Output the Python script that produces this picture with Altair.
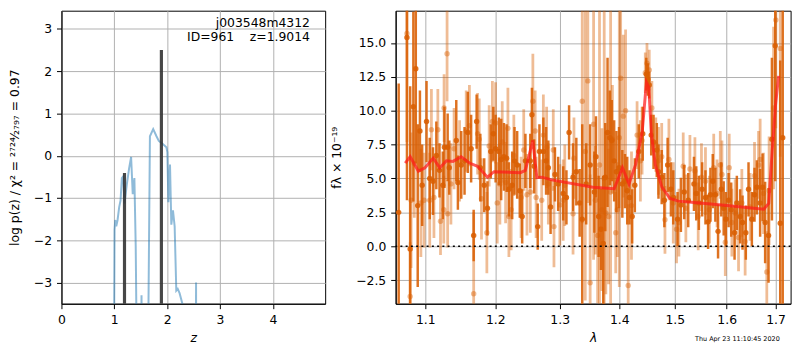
import altair as alt
import pandas as pd

# ---------------- left panel: redshift probability ----------------
pz_z = [0.99, 1.005, 1.018, 1.037, 1.062, 1.093, 1.118, 1.143, 1.168, 1.193,
        1.237, 1.280, 1.318, 1.349, 1.380, 1.405, 1.436, 1.505, 1.515, 1.525,
        1.630, 1.674, 1.736, 1.798, 1.842, 1.923, 1.986, 2.004, 2.023, 2.054,
        2.079, 2.110, 2.142, 2.173, 2.200, 2.235, 2.310, 2.330, 2.540, 2.547,
        2.552]
pz_logp = [-6.0, -1.75, -1.52, -1.67, -1.52, -1.21, -1.06, -0.53, -0.49, -1.13,
           -0.68, -0.30, -0.03, -0.91, -0.53, -2.12, -6.0, -6.0, -3.30, -6.0,
           -6.0, 0.46, 0.63, 0.46, 0.35, 0.27, 0.20, 0.08, -1.10, -0.21,
           -1.63, -1.29, -1.67, -3.19, -3.15, -3.25, -3.6, -6.0, -6.0, -3.00,
           -6.0]
zbar_z = [1.193, 1.891]
zbar_top = [-0.41, 2.50]

obj_name = "j003548m4312"
obj_info = "ID=961\u00a0\u00a0\u00a0\u00a0z=1.9014"
timestamp = "Thu Apr 23 11:10:45 2020"

# ---------------- right panel: spectrum ----------------
# darker grism series
lam_a = [1.0642, 1.0752, 1.0795, 1.0838, 1.0871, 1.0897, 1.0927, 1.0957, 1.1017, 1.1061,
         1.1106, 1.1152, 1.1196, 1.1242, 1.1265, 1.1310, 1.1333, 1.1432, 1.1455, 1.1503,
         1.1550, 1.1597, 1.1645, 1.1682, 1.1725, 1.1779, 1.1836, 1.1884, 1.1933, 1.1971,
         1.2005, 1.2054, 1.2088, 1.2130, 1.2170, 1.2205, 1.2255, 1.2290, 1.2331, 1.2371,
         1.2408, 1.2458, 1.2534, 1.2559, 1.2594, 1.2650, 1.2677, 1.2739, 1.2782, 1.2818,
         1.2854, 1.2924, 1.2976, 1.3057, 1.3110, 1.3153, 1.3218, 1.3272, 1.3327, 1.3370,
         1.3436, 1.3502, 1.3573, 1.3600, 1.3645, 1.3684, 1.3724, 1.3758, 1.3797, 1.3836,
         1.3870, 1.3911, 1.3950, 1.3996, 1.4053, 1.4099, 1.4139, 1.4179, 1.4226, 1.4273,
         1.4343, 1.4414, 1.4478, 1.4508, 1.4531, 1.4567, 1.4609, 1.4668, 1.4699, 1.4758,
         1.4807, 1.4867, 1.4928, 1.4972, 1.5052, 1.5114, 1.5177, 1.5253, 1.5362, 1.5406,
         1.5456, 1.5519, 1.5583, 1.5634, 1.5680, 1.5725, 1.5776, 1.5829, 1.5893, 1.5940,
         1.5985, 1.6038, 1.6090, 1.6157, 1.6203, 1.6270, 1.6318, 1.6385, 1.6440, 1.6508,
         1.6563, 1.6611, 1.6679, 1.6729, 1.6783, 1.6854, 1.6925, 1.6995, 1.7101, 1.7154]
flux_a = [2.5, 15.4, -0.2, 10.3, 13.1, 3.0, 8.5, 4.5, 9.2, 5.0,
          4.8, 6.7, 5.6, 4.5, 7.3, 7.3, 5.8, 7.8, 4.7, 6.0,
          6.3, 8.4, 7.2, 0.8, 9.2, 5.8, 4.5, 2.8, 7.0, 8.3,
          7.2, 7.0, 6.4, 6.6, 6.5, 4.2, 4.5, 6.3, 6.0, 4.1,
          2.2, 6.3, 6.3, 9.7, 5.9, 1.45, 7.0, 7.0, 6.3, 5.8,
          2.9, 5.3, 4.6, 3.9, 3.6, 8.4, 5.1, 5.5, 3.2, 2.0,
          4.6, 6.0, 4.0, 6.6, 2.2, 1.25, 0.2, 5.1, 8.4, 8.0,
          7.8, 6.3, 5.5, 5.8, 4.6, 4.8, 4.1, 3.6, 2.2, 4.5,
          7.0, 8.3, 12.7, 12.3, 11.9, 8.2, 7.7, 7.1, 5.5, 5.1,
          3.4, 6.0, 4.2, 3.6, 2.0, 3.05, 4.0, 3.4, 4.6, 3.9,
          3.2, 4.2, 3.6, 1.8, 3.8, 4.8, 3.8, 1.1, 4.2, 2.8,
          2.0, 3.4, 2.7, 1.0, 3.2, 2.2, 1.75, 1.0, 4.2, 2.0,
          3.8, 4.35, 3.2, 4.35, 1.75, 0.8, 7.9, 14.8, 1.7, 8.0]
err_a = [9.5, 12.0, 12.0, 7.0, 7.0, 6.0, 3.0, 3.0, 3.0, 3.0,
         2.5, 2.5, 2.0, 2.5, 3.0, 2.5, 2.0, 3.0, 2.0, 2.5,
         2.5, 3.0, 2.5, 1.9, 2.0, 2.5, 2.0, 2.0, 2.0, 2.0,
         2.5, 2.5, 3.0, 2.5, 2.5, 2.0, 2.5, 2.5, 2.5, 2.0,
         2.0, 2.0, 2.0, 2.0, 2.0, 1.7, 2.0, 2.5, 2.5, 2.0,
         2.0, 2.0, 2.0, 2.0, 2.0, 2.0, 2.5, 2.5, 2.5, 7.0,
         3.0, 3.0, 3.0, 3.0, 3.0, 3.0, 5.0, 4.0, 5.5, 3.5,
         3.0, 3.0, 3.0, 3.0, 2.5, 2.0, 2.5, 2.0, 2.0, 2.0,
         2.0, 2.0, 1.2, 1.2, 1.0, 1.5, 2.0, 2.0, 2.0, 2.0,
         2.0, 2.0, 2.0, 2.0, 2.0, 2.0, 2.0, 2.0, 2.0, 2.0,
         2.0, 2.0, 2.0, 2.0, 2.0, 2.0, 2.0, 2.0, 2.0, 2.0,
         2.0, 2.0, 2.0, 2.0, 2.0, 2.0, 2.0, 2.0, 2.0, 2.0,
         2.0, 2.0, 2.5, 2.5, 3.0, 3.5, 6.0, 10.0, 12.0, 16.0]

# lighter grism series
lam_b = [1.0752, 1.0795, 1.0808, 1.0851, 1.0940, 1.0984, 1.1061, 1.1084, 1.1119, 1.1173,
         1.1210, 1.1256, 1.1260, 1.1302, 1.1310, 1.1356, 1.1401, 1.1479, 1.1574, 1.1620,
         1.1682, 1.1739, 1.1763, 1.1796, 1.1875, 1.1909, 1.1957, 1.2005, 1.2029, 1.2069,
         1.2104, 1.2155, 1.2190, 1.2205, 1.2239, 1.2280, 1.2391, 1.2432, 1.2482, 1.2534,
         1.2574, 1.2610, 1.2625, 1.2713, 1.2739, 1.2791, 1.2818, 1.2897, 1.2908, 1.3003,
         1.3057, 1.3083, 1.3218, 1.3233, 1.3370, 1.3420, 1.3463, 1.3502, 1.3560, 1.3590,
         1.3628, 1.3660, 1.3701, 1.3740, 1.3768, 1.3814, 1.3850, 1.3881, 1.3938, 1.3967,
         1.4000, 1.4024, 1.4070, 1.4110, 1.4156, 1.4214, 1.4313, 1.4372, 1.4402, 1.4460,
         1.4490, 1.4531, 1.4579, 1.4650, 1.4699, 1.4758, 1.4818, 1.4891, 1.4972, 1.5033,
         1.5077, 1.5158, 1.5208, 1.5285, 1.5380, 1.5443, 1.5506, 1.5583, 1.5660, 1.5744,
         1.5809, 1.5873, 1.5906, 1.5972, 1.6050, 1.6103, 1.6169, 1.6237, 1.6304, 1.6371,
         1.6473, 1.6563, 1.6646, 1.6679, 1.6749, 1.6818, 1.6866, 1.6960, 1.7008, 1.7101]
flux_b = [15.7, -3.7, 3.4, 6.1, 3.2, 3.4, 3.4, 8.6, 3.6, 8.6,
          1.85, 2.7, 10.2, 14.2, 2.4, 4.6, 7.2, 6.3, 8.5, 8.9,
          -3.5, 8.3, 7.9, 3.5, 1.0, 7.4, 9.2, 9.1, 3.2, 4.6,
          7.7, 4.7, 8.7, 2.2, 2.7, 6.7, 3.6, 7.1, 3.8, 4.0,
          10.7, 8.5, 3.6, 3.4, 8.2, 7.3, 4.6, 7.1, 1.45, 3.05,
          3.4, 4.5, 2.4, 6.5, 10.7, 7.0, 12.2, -2.7, 9.0, 3.4,
          0.8, 6.0, 2.7, 5.0, 2.45, 2.2, 4.0, 7.9, 1.0, 2.7,
          8.0, 12.4, 9.6, 10.0, -2.9, 3.0, 8.2, 6.3, 7.8, 12.8,
          13.5, 13.0, 10.2, 7.5, 6.3, 6.6, 1.95, 6.4, 3.2, 1.25,
          1.75, 5.9, 2.8, 5.7, 5.55, 2.2, 5.1, 4.8, 2.7, 5.8,
          3.9, 6.0, 5.3, 0.3, 5.8, 1.75, 2.45, 0.65, 3.2, 0.35,
          2.9, 5.2, 6.0, 6.4, 3.9, -1.9, 4.1, 10.2, 16.7, 14.6]
err_b = [8.0, 4.0, 5.0, 4.0, 4.0, 3.5, 3.5, 3.0, 3.0, 3.0,
         2.5, 2.5, 2.5, 3.5, 2.5, 3.0, 3.0, 3.0, 3.0, 3.0,
         6.0, 3.0, 3.0, 3.0, 3.0, 3.0, 3.0, 3.0, 3.0, 3.0,
         3.0, 3.0, 3.0, 3.0, 3.0, 3.0, 3.0, 3.0, 3.0, 3.0,
         3.5, 3.0, 3.0, 3.0, 3.0, 3.0, 3.0, 3.0, 3.0, 3.0,
         3.0, 3.0, 3.0, 3.0, 9.0, 11.0, 9.0, 8.0, 10.0, 4.0,
         5.0, 12.0, 6.0, 13.0, 6.0, 5.0, 14.0, 4.0, 3.0, 3.5,
         11.0, 7.0, 6.0, 6.0, 6.0, 4.0, 2.5, 3.0, 2.5, 1.5,
         1.5, 1.5, 2.0, 2.0, 2.5, 2.5, 2.5, 3.0, 3.0, 2.5,
         2.5, 2.5, 2.5, 2.5, 2.5, 2.5, 2.5, 2.5, 2.5, 2.5,
         2.5, 2.5, 2.5, 2.5, 2.5, 2.5, 2.5, 2.5, 2.5, 2.5,
         2.5, 2.5, 2.5, 3.0, 3.0, 3.0, 4.0, 6.0, 8.0, 8.0]

# best-fit model
model_lam = [1.0729, 1.0795, 1.0906, 1.0996, 1.1109, 1.1200, 1.1293, 1.1385, 1.1502, 1.1620,
             1.1739, 1.1884, 1.1982, 1.2381, 1.2457, 1.2574, 1.2636, 1.2720, 1.2871, 1.3547,
             1.3912, 1.4055, 1.4170, 1.4286, 1.4404, 1.4480, 1.4523, 1.4569, 1.4641, 1.4762,
             1.4912, 1.5067, 1.5315, 1.5953, 1.6755, 1.6858, 1.6929, 1.6998, 1.7067]
model_flux = [6.14, 6.61, 5.54, 5.79, 6.50, 5.79, 6.31, 6.26, 6.61, 6.14,
              5.90, 5.10, 5.50, 5.43, 5.60, 7.81, 5.07, 5.10, 4.90, 4.36,
              4.24, 5.79, 4.59, 6.02, 8.40, 12.09, 11.74, 8.29, 6.02, 4.36,
              3.52, 3.33, 3.24, 3.02, 2.74, 3.16, 6.97, 10.30, 12.57]

ORANGE = "#d95f02"
FONT = "DejaVu Sans"

# ---------------- build left chart ----------------
pz_df = pd.DataFrame({"z": pz_z, "logp": pz_logp})
bar_df = pd.DataFrame({"z": zbar_z, "top": zbar_top})

xz = alt.X("z:Q", scale=alt.Scale(domain=[0, 4.99], nice=False, zero=False),
           axis=alt.Axis(values=[0, 1, 2, 3, 4], format="d", title="z",
                         titleFontStyle="italic", titlePadding=6))
yl_axis = alt.Axis(values=[-3, -2, -1, 0, 1, 2, 3], format="d",
                   title="log p(z) / χ² = ²⁷²⁴⁄₂₇₉₇ = 0.97", titlePadding=12)
yl_scale = alt.Scale(domain=[-3.5, 3.43], nice=False, zero=False)

pz_line = alt.Chart(pz_df).mark_line(color="#1f77b4", opacity=0.5, strokeWidth=2,
                                     clip=True).encode(
    x=xz, y=alt.Y("logp:Q", scale=yl_scale, axis=yl_axis))
z_bars = alt.Chart(bar_df).mark_rule(color="#333333", opacity=0.9, strokeWidth=3.2,
                                     clip=True).encode(
    x="z:Q", y="top:Q", y2=alt.datum(-4.0))
txt1 = alt.Chart(pd.DataFrame({"t": [obj_name]})).mark_text(
    align="right", baseline="alphabetic", fontSize=12.5, font=FONT, color="black").encode(
    x=alt.value(251), y=alt.value(16), text="t:N")
txt2 = alt.Chart(pd.DataFrame({"t": [obj_info]})).mark_text(
    align="right", baseline="alphabetic", fontSize=12.5, font=FONT, color="black").encode(
    x=alt.value(251), y=alt.value(31), text="t:N")

left = alt.layer(pz_line, z_bars, txt1, txt2).properties(width=266.4, height=296)

# ---------------- build right chart ----------------
spec_a = pd.DataFrame({"lam": lam_a, "flux": flux_a, "err": err_a})
spec_a["lo"] = spec_a["flux"] - spec_a["err"]
spec_a["hi"] = spec_a["flux"] + spec_a["err"]
spec_b = pd.DataFrame({"lam": lam_b, "flux": flux_b, "err": err_b})
spec_b["lo"] = spec_b["flux"] - spec_b["err"]
spec_b["hi"] = spec_b["flux"] + spec_b["err"]
model_df = pd.DataFrame({"lam": model_lam, "flux": model_flux})

xl = alt.X("lam:Q", scale=alt.Scale(type="log", domain=[1.0602, 1.7323], nice=False, zero=False),
           axis=alt.Axis(values=[1.1, 1.2, 1.3, 1.4, 1.5, 1.6, 1.7], format=".1f", title="λ",
                         titleFontStyle="italic", titlePadding=6))
yr_scale = alt.Scale(domain=[-4.24, 17.38], nice=False, zero=False)
yr_axis = alt.Axis(values=[-2.5, 0, 2.5, 5, 7.5, 10, 12.5, 15], format=".1f",
                   title="fλ × 10⁻¹⁹", titlePadding=12)

def errbars(df, op, w):
    bars = alt.Chart(df).mark_rule(color=ORANGE, opacity=op, strokeWidth=w, clip=True).encode(
        x=xl, y=alt.Y("lo:Q", scale=yr_scale, axis=yr_axis), y2="hi:Q")
    pts = alt.Chart(df).mark_circle(color=ORANGE, opacity=op, size=30, clip=True).encode(
        x="lam:Q", y="flux:Q")
    return bars, pts

b_bars, b_pts = errbars(spec_b, 0.42, 2.8)
a_bars, a_pts = errbars(spec_a, 0.88, 2.5)
model = alt.Chart(model_df).mark_line(color="#ff1a1a", opacity=0.72, strokeWidth=3,
                                      clip=True).encode(x="lam:Q", y="flux:Q")
zero = alt.Chart(pd.DataFrame({"v": [0]})).mark_rule(
    color="black", strokeWidth=1.6, strokeDash=[2, 3.3]).encode(y="v:Q")
stamp = alt.Chart(pd.DataFrame({"t": [timestamp]})).mark_text(
    align="right", baseline="alphabetic", fontSize=6.5, font=FONT, color="black").encode(
    x=alt.value(388), y=alt.value(334), text="t:N")

right = alt.layer(b_bars, b_pts, a_bars, a_pts, model, zero, stamp).properties(
    width=399, height=296)

chart = alt.hconcat(left, right, spacing=70.6, bounds="flush").properties(
    padding={"left": 0, "top": 0, "right": 0, "bottom": 0}
).configure_view(
    stroke="black", strokeWidth=1
).configure_axis(
    grid=True, gridColor="#b0b0b0", gridWidth=1, gridOpacity=1,
    domainColor="black", domainWidth=1, tickColor="black", tickSize=5, tickWidth=1,
    labelColor="black", labelFont=FONT, labelFontSize=12.5, labelPadding=5,
    titleColor="black", titleFont=FONT, titleFontSize=12.5, titleFontWeight="normal",
    minExtent=0, zindex=1, labelFlush=False, labelOverlap=False
)

chart.save("out.html", embed_options={"renderer": "svg", "actions": False})
